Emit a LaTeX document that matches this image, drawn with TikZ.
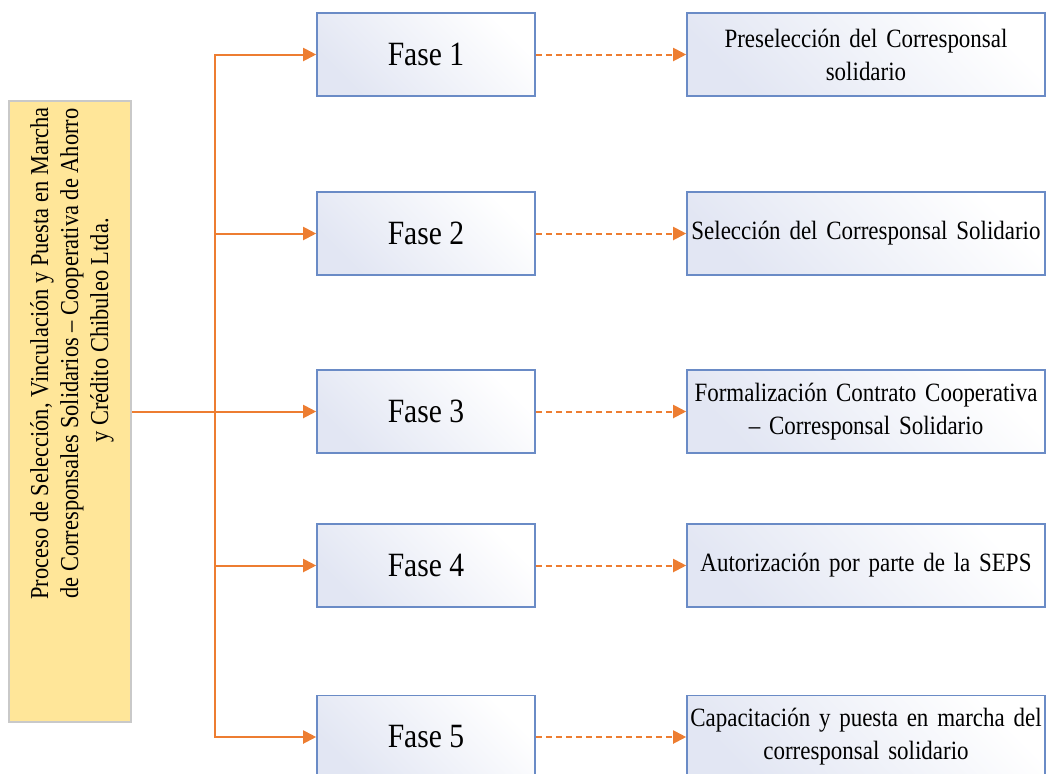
\documentclass[tikz,border=0pt]{standalone}
\usepackage{fontspec}
\setmainfont{Liberation Serif}[FakeStretch=0.87]
\usetikzlibrary{arrows.meta,positioning,calc}

\definecolor{linkorange}{HTML}{ED7D31}
\definecolor{leadfill}{HTML}{FFE699}
\definecolor{leaddraw}{HTML}{C9C9C9}
\definecolor{boxdraw}{HTML}{6A8BC6}
\definecolor{boxfill}{HTML}{E2E6F3}

\begin{document}
\begin{tikzpicture}[
    x=0.5pt, y=-0.5pt,
    >={Triangle[length=6.5pt, width=6.5pt]},
    lead/.style={rectangle, draw=leaddraw, fill=leadfill, line width=0.6pt, minimum width=61pt, minimum height=310.5pt, inner sep=0pt},
    leadtext/.style={align=center, font=\fontsize{12.9}{15}\selectfont, rotate=90, inner sep=0pt},
    phase/.style={rectangle, draw=boxdraw, line width=0.8pt, top color=boxfill, bottom color=white, shading angle=135, minimum width=109pt, minimum height=41.5pt, align=center, font=\fontsize{17}{20}\selectfont},
    result/.style={rectangle, draw=boxdraw, line width=0.8pt, top color=boxfill, bottom color=white, shading angle=135, text width=177pt, inner xsep=1pt, inner ysep=1pt, minimum height=41.5pt, align=center, font=\fontsize{13.2}{16.5}\selectfont},
    link/.style={->, draw=linkorange, line width=1pt},
    dashlink/.style={->, draw=linkorange, line width=1pt, dash pattern=on 3pt off 2pt}
]
\useasboundingbox (0,0) rectangle (1046,773);
\clip (0,0) rectangle (1046,773);

% Process title (box, rotated text set toward the top)
\node[lead] (proc) at (70, 411.5) {};
\node[leadtext] (proctitle) at ($(proc.center)+(2,-58)$) {Proceso de Selección, Vinculación y Puesta en Marcha\\ de Corresponsales Solidarios -- Cooperativa de Ahorro\\ \hspace*{23pt}y Crédito Chibuleo Ltda.};

% Phases
\node[phase] (f1) at (426, 54.5) {Fase 1};
\node[phase] (f2) at (426, 233.5) {Fase 2};
\node[phase] (f3) at (426, 411.5) {Fase 3};
\node[phase] (f4) at (426, 565.5) {Fase 4};
\node[phase] (f5) at (426, 737) {Fase 5};

% Results
\node[result] (r1) at (866, 54.5) {Preselección del Corresponsal\\ solidario};
\node[result] (r2) at (866, 233.5) {Selección del Corresponsal Solidario};
\node[result] (r3) at (866, 411.5) {Formalización Contrato Cooperativa\\ -- Corresponsal Solidario};
\node[result] (r4) at (866, 565.5) {Autorización por parte de la SEPS};
\node[result] (r5) at (866, 737) {Capacitación y puesta en marcha del\\ corresponsal solidario};

% Bus from title to phases
\coordinate (bus) at (215, 411.5);
\draw[draw=linkorange, line width=1pt] (proc.east) -- (bus);
\foreach \i in {1,...,5}
    \draw[link] (bus) |- (f\i.west);

% Phases to results
\foreach \i in {1,...,5}
    \draw[dashlink] (f\i.east) -- (r\i.west);

\end{tikzpicture}
\end{document}
